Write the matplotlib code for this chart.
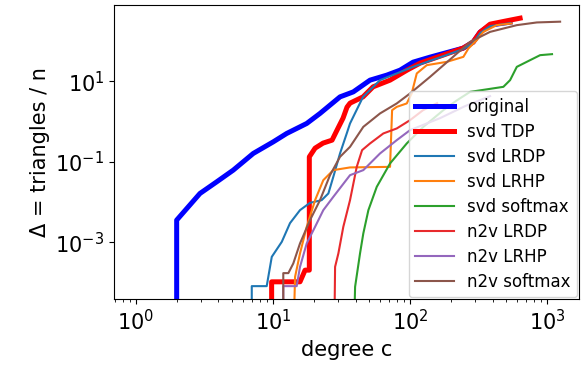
import numpy as np
import matplotlib
matplotlib.use('Agg')
import matplotlib.pyplot as plt
from matplotlib.ticker import NullLocator

# curves, as log10(degree c) and log10(triangles / n)
# (a first value of -6 means the curve comes up from zero, below the axis)
orig_c = [0.297, 0.297, 0.467, 0.589, 0.710, 0.856, 1.002, 1.100, 1.246, 1.343, 1.489, 1.586,
          1.708, 1.830, 1.927, 2.022, 2.146, 2.387, 2.460, 2.511, 2.584, 2.679, 2.730]
orig_d = [-6, -2.449, -1.787, -1.499, -1.208, -0.794, -0.506, -0.298, -0.050, 0.199, 0.610, 0.734,
          1.025, 1.149, 1.273, 1.471, 1.596, 1.819, 1.968, 2.216, 2.390, 2.439, 2.464]

tdp_c = [0.990, 0.990, 1.197, 1.234, 1.265, 1.265, 1.307, 1.365, 1.431, 1.467, 1.511, 1.540, 1.562,
         1.657, 1.730, 1.854, 1.978, 2.073, 2.387, 2.460, 2.511, 2.584, 2.693, 2.803]
tdp_d = [-6, -3.980, -3.980, -3.690, -3.690, -0.878, -0.663, -0.538, -0.464, -0.216, 0.082, 0.355, 0.454,
         0.610, 0.859, 1.025, 1.273, 1.447, 1.819, 1.968, 2.216, 2.414, 2.489, 2.563]

svd_lrdp_c = [0.845, 0.845, 0.954, 0.991, 1.064, 1.124, 1.197, 1.270, 1.355, 1.404, 1.440, 1.489,
              1.538, 1.562, 1.657, 1.781, 2.022, 2.387, 2.460, 2.511, 2.584, 2.730]
svd_lrdp_d = [-6, -4.087, -4.087, -3.360, -2.988, -2.524, -2.201, -2.020, -1.953, -1.787, -1.375, -0.794,
              -0.298, -0.050, 0.610, 1.025, 1.355, 1.794, 1.943, 2.191, 2.365, 2.439]

svd_lrhp_c = [1.144, 1.161, 1.197, 1.246, 1.307, 1.367, 1.440, 1.562, 1.854, 1.869, 1.903, 1.976,
              2.012, 2.049, 2.122, 2.268, 2.389, 2.426, 2.487, 2.535, 2.633, 2.742]
svd_lrhp_d = [-6, -3.856, -3.275, -2.615, -1.953, -1.457, -1.208, -1.141, -1.127, 0.280, 0.362, 0.447,
              0.695, 1.191, 1.397, 1.479, 1.603, 1.811, 2.017, 2.223, 2.390, 2.432]

svd_soft_c = [1.586, 1.599, 1.635, 1.659, 1.696, 1.757, 1.854, 1.976, 2.097, 2.243, 2.340, 2.438,
              2.681, 2.730, 2.779, 2.876, 2.949, 3.036]
svd_soft_d = [-6, -4.104, -3.275, -2.779, -2.201, -1.623, -1.042, -0.546, -0.134, 0.280, 0.520, 0.734,
              0.859, 1.025, 1.355, 1.521, 1.645, 1.670]

n2v_lrdp_c = [1.445, 1.453, 1.477, 1.513, 1.562, 1.611, 1.650, 1.708, 1.805, 1.903, 2.000, 2.095, 2.197]
n2v_lrdp_d = [-6, -3.608, -3.275, -2.615, -1.953, -1.127, -0.712, -0.546, -0.298, -0.174, 0.032, 0.280, 0.454]

n2v_lrhp_c = [1.075, 1.075, 1.173, 1.197, 1.246, 1.307, 1.367, 1.440, 1.562, 1.659, 1.781, 1.903,
              2.000, 2.219, 2.401, 2.584]
n2v_lrhp_d = [-6, -4.087, -4.087, -3.608, -3.027, -2.615, -2.201, -1.871, -1.333, -1.208, -0.794, -0.464,
              -0.216, 0.082, 0.380, 0.628]

n2v_soft_c = [1.075, 1.075, 1.112, 1.148, 1.197, 1.270, 1.343, 1.416, 1.489, 1.562, 1.659, 1.781,
              1.903, 2.000, 2.146, 2.314, 2.438, 2.584, 2.779, 2.925, 3.095]
n2v_soft_d = [-6, -3.764, -3.764, -3.524, -3.027, -2.449, -1.953, -1.333, -0.878, -0.630, -0.134, 0.199,
              0.447, 0.695, 1.107, 1.603, 1.975, 2.223, 2.390, 2.457, 2.476]

series = [
    ('original', orig_c, orig_d, 'blue', 3.6),
    ('svd TDP', tdp_c, tdp_d, 'red', 3.6),
    ('svd LRDP', svd_lrdp_c, svd_lrdp_d, 'C0', 1.5),
    ('svd LRHP', svd_lrhp_c, svd_lrhp_d, 'C1', 1.5),
    ('svd softmax', svd_soft_c, svd_soft_d, 'C2', 1.5),
    ('n2v LRDP', n2v_lrdp_c, n2v_lrdp_d, '#e82a2d', 1.5),
    ('n2v LRHP', n2v_lrhp_c, n2v_lrhp_d, 'C4', 1.5),
    ('n2v softmax', n2v_soft_c, n2v_soft_d, 'C5', 1.5),
]

fig = plt.figure(figsize=(5.81, 3.67), dpi=100)
ax = fig.add_axes([0.196, 0.185, 0.800, 0.801])

for name, lc, ld, col, lw in series:
    ax.plot(10 ** np.array(lc), 10 ** np.array(ld), color=col, lw=lw, label=name)

ax.set_xscale('log')
ax.set_yscale('log')
ax.set_xlim(0.69, 1700)
ax.set_ylim(3.9e-5, 770)
ax.set_yticks([1e-3, 1e-1, 1e1])
ax.yaxis.set_minor_locator(NullLocator())
ax.tick_params(labelsize=15)
ax.set_xlabel('degree c', fontsize=15)
ax.set_ylabel('Δ = triangles / n', fontsize=15)
ax.legend(loc='lower right', fontsize=12, borderaxespad=0.1, handlelength=2.3,
          labelspacing=0.42)

fig.savefig('out.png', dpi=100)
